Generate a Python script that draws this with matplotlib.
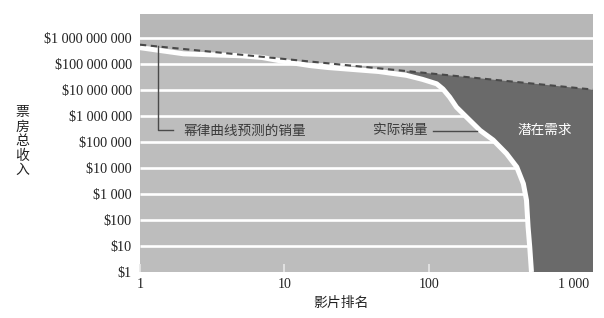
import numpy as np
import matplotlib
matplotlib.use("Agg")
import matplotlib.pyplot as plt

# ---------------- data ----------------
ranks = [1, 2, 3, 5, 7, 10, 15, 20, 30, 45, 70, 90, 113, 125, 139, 155, 182,
         226, 278, 344, 405, 450, 473, 485, 498, 512]
revenue = [4.3e8, 2.5e8, 2.3e8, 2.1e8, 1.8e8, 1.25e8, 8.8e7, 7.4e7, 6.2e7, 5.2e7,
           3.7e7, 2.6e7, 1.75e7, 1.1e7, 5.4e6, 2.2e6, 9.1e5, 2.8e5, 1.2e5, 3.6e4,
           1.1e4, 2.5e3, 580, 55, 9.3, 1.0]
power_x = [1, 70, 1365]
power_y = [5.6e8, 5.4e7, 1.05e7]

xticks = [1, 10, 100, 1000]
xticklabels = ["1", "10", "100", "1 000"]
yticks = [1, 10, 100, 1e3, 1e4, 1e5, 1e6, 1e7, 1e8, 1e9]
yticklabels = ["$1", "$10", "$100", "$1 000", "$10 000", "$100 000",
               "$1 000 000", "$10 000 000", "$100 000 000", "$1 000 000 000"]

xlim = (1, 1365)
ylim = (1, 8.5e9)
dark_start = 70

CJK = ["Noto Sans CJK SC", "DejaVu Sans"]
SERIF = "Liberation Serif"

top_gray = "#b7b7b7"
light_gray = "#bdbdbd"
dark_gray = "#6a6a6a"
line_gray = "#4a4a4a"

fig = plt.figure(figsize=(6.04, 3.18), dpi=100)
ax = fig.add_axes([140/604, 1-272/318, (593-140)/604, (272-14)/318])
ax.set_xscale("log")
ax.set_yscale("log")
ax.set_xlim(*xlim)
ax.set_ylim(*ylim)
ax.set_facecolor(top_gray)
for s in ax.spines.values():
    s.set_visible(False)

# gridlines for the top region (under everything)
ax.yaxis.set_zorder(0.5)
ax.grid(axis="y", which="major", color="white", linewidth=1.9)
ax.grid(axis="x", visible=False)
ax.yaxis.set_minor_locator(matplotlib.ticker.NullLocator())
ax.xaxis.set_minor_locator(matplotlib.ticker.NullLocator())

# light region below actual curve
rk = np.array(ranks, dtype=float)
rv = np.array(revenue, dtype=float)
light_poly = ax.fill(np.concatenate([rk, [rk[-1], rk[0]]]),
                     np.concatenate([rv, [0.5, 0.5]]),
                     color=light_gray, zorder=1, lw=0)[0]
# gridlines inside the light region
gl = ax.hlines(yticks[1:], xlim[0], xlim[1], colors="white", linewidth=1.9, zorder=1.2)
gl.set_clip_path(light_poly)

# x ticks above light area, below dark area
ax.xaxis.set_zorder(1.5)

# dark region (latent demand)
px = np.array(power_x, dtype=float)
py = np.array(power_y, dtype=float)
m = rk >= dark_start
mp = px >= dark_start
dx = np.concatenate([rk[m], [xlim[1] * 1.05, xlim[1] * 1.05], px[mp][::-1]])
dy = np.concatenate([rv[m], [0.5, py[-1]], py[mp][::-1]])
ax.fill(dx, dy, color=dark_gray, zorder=2, lw=0)

# actual sales curve
ax.plot(rk, rv, color="white", lw=3.6, zorder=4, solid_capstyle="butt")
# power-law prediction
ax.plot(px, py, color=line_gray, lw=1.5, dashes=(3, 2.2), zorder=5)

# ticks
ax.set_xticks(xticks)
ax.set_xticklabels(xticklabels, fontfamily=SERIF, fontsize=10, color="#222222")
ax.set_yticks(yticks)
ax.set_yticklabels(yticklabels, fontfamily=SERIF, fontsize=10.2, color="#222222")
ax.tick_params(axis="x", direction="in", length=6, width=1.2, color="#e8e8e8", pad=4)
ax.tick_params(axis="y", length=0, pad=5.8)

# annotations
ax.plot([1.33, 1.33, 1.69], [5.0e8, 2.8e5, 2.8e5], color=line_gray, lw=1.0, zorder=6)
ax.text(1.985, 2.8e5, "幂律曲线预测的销量", family=CJK, fontsize=9.8,
        color="#3a3a3a", va="center", ha="left", zorder=6)
ax.plot([106.6, 215], [2.7e5, 2.7e5], color=line_gray, lw=1.0, zorder=6)
ax.text(98.4, 2.8e5, "实际销量", family=CJK, fontsize=9.8,
        color="#3a3a3a", va="center", ha="right", zorder=6)
ax.text(635, 2.9e5, "潜在需求", family=CJK, fontsize=9.8,
        color="white", va="center", ha="center", zorder=6)

# axis labels
fig.text(341/604, 1-303/318, "影片排名", family=CJK, fontsize=10,
         color="#222222", ha="center", va="center")
fig.text(22/604, 1-141/318, "票\n房\n总\n收\n入", family=CJK, fontsize=10,
         color="#222222", ha="center", va="center", linespacing=1.05)

fig.savefig("out.png", dpi=100)
